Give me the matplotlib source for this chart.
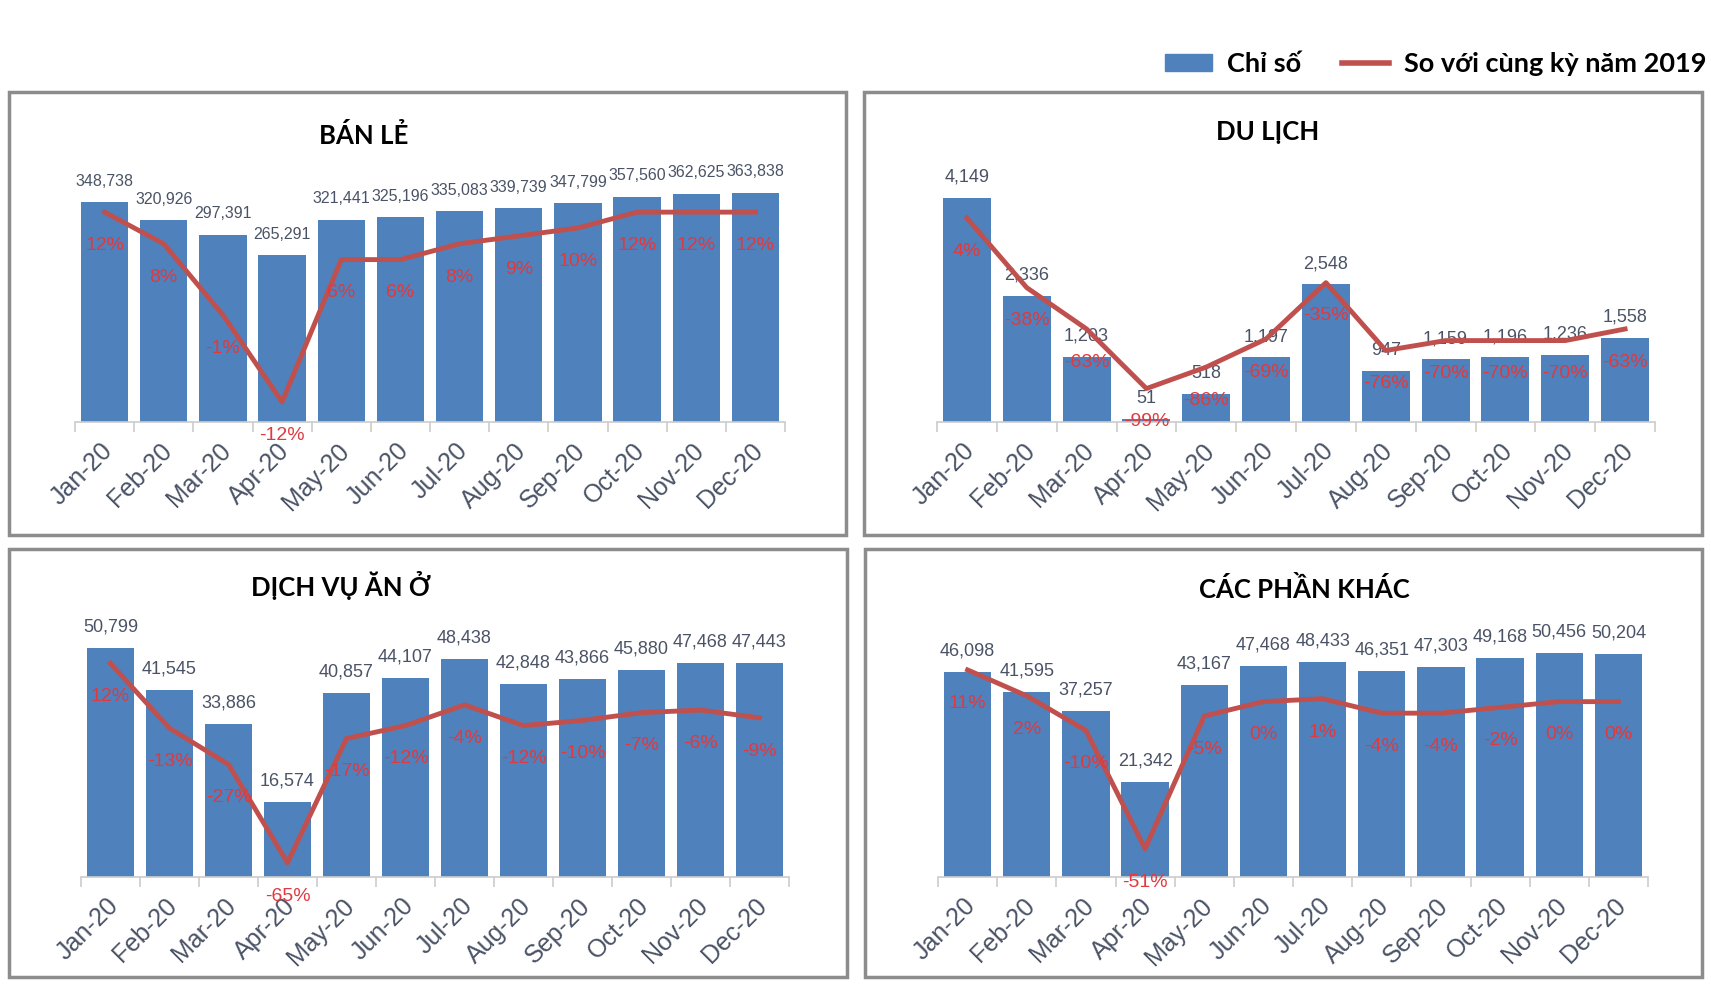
import matplotlib.pyplot as plt
import matplotlib.transforms as mtransforms
from matplotlib.patches import Rectangle, Patch
from matplotlib.lines import Line2D

months = ["Jan-20", "Feb-20", "Mar-20", "Apr-20", "May-20", "Jun-20",
          "Jul-20", "Aug-20", "Sep-20", "Oct-20", "Nov-20", "Dec-20"]

ban_le = [348738, 320926, 297391, 265291, 321441, 325196,
          335083, 339739, 347799, 357560, 362625, 363838]
ban_le_pct = [12, 8, -1, -12, 6, 6, 8, 9, 10, 12, 12, 12]

du_lich = [4149, 2336, 1203, 51, 518, 1197, 2548, 947, 1159, 1196, 1236, 1558]
du_lich_pct = [4, -38, -63, -99, -86, -69, -35, -76, -70, -70, -70, -63]

an_o = [50799, 41545, 33886, 16574, 40857, 44107,
        48438, 42848, 43866, 45880, 47468, 47443]
an_o_pct = [12, -13, -27, -65, -17, -12, -4, -12, -10, -7, -6, -9]

khac = [46098, 41595, 37257, 21342, 43167, 47468,
        48433, 46351, 47303, 49168, 50456, 50204]
khac_pct = [11, 2, -10, -51, -5, 0, 1, -4, -4, -2, 0, 0]

BAR = "#4f81bd"
LINE = "#c0504d"
PCT = "#e0393e"
LBL = "#4a5366"
W, H = 1711, 989

fig = plt.figure(figsize=(W / 100, H / 100), dpi=100)


def px(x0, y0, x1, y1):
    # pixel box (top-left origin) -> figure fraction rect
    return [x0 / W, 1 - y1 / H, (x1 - x0) / W, (y1 - y0) / H]


def draw_panel(title, vals, pct, ax_box, ylim, ylim2, title_xy, frame, lbl_size):
    # gray frame round the panel
    fr = px(*frame)
    fig.patches.append(Rectangle((fr[0], fr[1]), fr[2], fr[3], transform=fig.transFigure,
                                 fill=False, edgecolor="#8c8c8c", linewidth=2.5))
    fig.text(title_xy[0] / W, 1 - title_xy[1] / H, title, ha="center", va="center",
             fontsize=18.5, fontweight="bold", family="Lato")

    ax = fig.add_axes(px(*ax_box))
    x = list(range(len(vals)))
    ax.bar(x, vals, width=0.8, color=BAR, zorder=2)
    ax.set_xlim(-0.5, 11.5)
    ax.set_ylim(*ylim)
    for i, v in enumerate(vals):
        ax.annotate(f"{v:,}", (i, v), xytext=(0, 15), textcoords="offset points",
                    ha="center", va="center", fontsize=lbl_size, color=LBL,
                    family="Liberation Sans")
    for s in ["top", "left", "right"]:
        ax.spines[s].set_visible(False)
    ax.spines["bottom"].set_color("#cccccc")
    ax.spines["bottom"].set_linewidth(1.2)
    ax.set_yticks([])
    ax.set_xticks(x)
    ax.set_xticklabels(months, rotation=45, ha="right", va="center",
                       rotation_mode="anchor", fontsize=18, color=LBL,
                       family="Liberation Sans")
    ax.tick_params(axis="x", which="major", length=0, pad=16)
    # nudge the slanted labels a little right and down
    shift = mtransforms.ScaledTranslation(4 / 100, -3 / 100, fig.dpi_scale_trans)
    for lab in ax.get_xticklabels():
        lab.set_transform(lab.get_transform() + shift)
    ax.set_xticks([i - 0.5 for i in range(13)], minor=True)
    ax.tick_params(axis="x", which="minor", length=7, color="#cccccc", width=1.2)

    ax2 = ax.twinx()
    ax2.plot(x, pct, color=LINE, linewidth=3.5, solid_joinstyle="round")
    ax2.set_ylim(*ylim2)
    ax2.set_yticks([])
    for s in ["top", "left", "right", "bottom"]:
        ax2.spines[s].set_visible(False)
    for i, p in enumerate(pct):
        ax2.annotate(f"{p}%", (i, p), xytext=(0, -24), textcoords="offset points",
                     ha="center", va="center", fontsize=14, color=PCT,
                     family="Liberation Sans")


draw_panel("BÁN LẺ", ban_le, ban_le_pct, (75, 165, 785, 422),
           (0, 408000), (-14.53, 17.96), (364, 136), (9, 92, 846, 535), 11.5)
draw_panel("DU LỊCH", du_lich, du_lich_pct, (937, 165, 1655, 422),
           (0, 4760), (-119.2, 36.1), (1268, 132), (864, 92, 1702, 535), 13)
draw_panel("DỊCH VỤ ĂN Ở", an_o, an_o_pct, (81, 620, 789, 877),
           (0, 57000), (-70.5, 28.8), (341, 586), (9, 549, 847, 977), 13)
draw_panel("CÁC PHẦN KHÁC", khac, khac_pct, (938, 620, 1648, 877),
           (0, 57770), (-60.8, 28.3), (1304, 589), (865, 549, 1702, 977), 13)

handles = [Patch(color=BAR), Line2D([], [], color=LINE, linewidth=4)]
fig.legend(handles, ["Chỉ số", "So với cùng kỳ năm 2019"], loc="center right",
           bbox_to_anchor=(1731 / W, 1 - 64 / H), ncol=2, frameon=False,
           prop=dict(family="Lato", weight="bold", size=19.5),
           handlelength=1.75, handleheight=0.55, handletextpad=0.55, columnspacing=1.5)

fig.savefig("out.png", dpi=100)
